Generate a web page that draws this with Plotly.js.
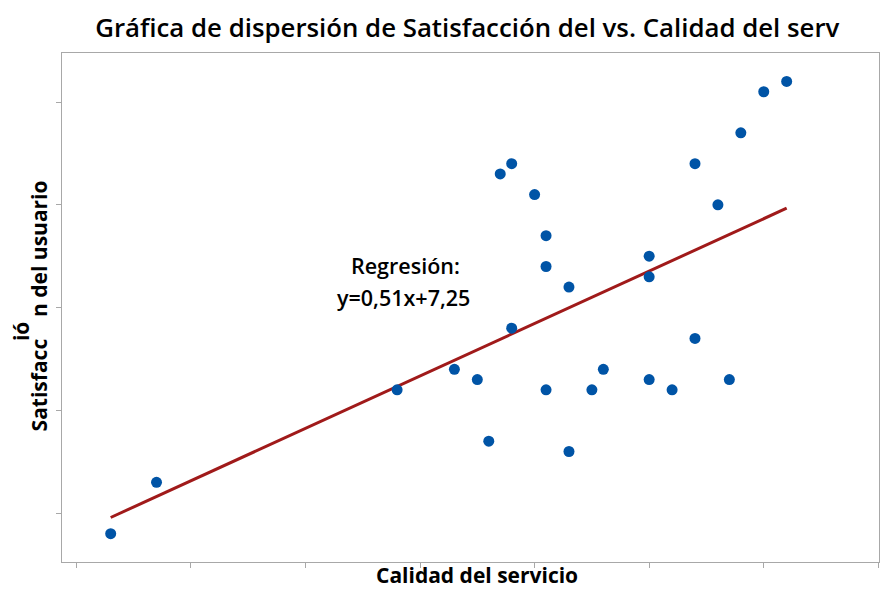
<!DOCTYPE html>
<html>
<head>
<meta charset="utf-8">
<script src="https://cdn.plot.ly/plotly-3.0.1.min.js"></script>
<style>html,body{margin:0;padding:0;background:#fff;}#chart{width:880px;height:590px;}</style>
</head>
<body>
<div id="chart"></div>
<script>
// Data
const calidad = [83, 87, 108, 113, 115, 116, 117, 118, 118, 120, 121, 121, 121, 123, 123, 125, 126, 130, 130, 130, 132, 134, 134, 136, 137, 138, 140, 142];
const satisfaccion = [48, 53, 62, 64, 63, 57, 83, 84, 68, 81, 77, 74, 62, 72, 56, 62, 64, 75, 73, 63, 62, 84, 67, 80, 63, 87, 91, 92];
const slope = 0.51;
const intercept = 7.25;
const xTicks = [80, 90, 100, 110, 120, 130, 140, 150];
const yTicks = [50, 60, 70, 80, 90];

const xMin = Math.min(...calidad), xMax = Math.max(...calidad);
const lineX = [xMin, xMax];
const lineY = lineX.map(v => slope * v + intercept);

const fmt = v => v.toFixed(2).replace('.', ',');
const FONT = '"Open Sans", "Noto Sans", sans-serif';

const traces = [
  {
    x: lineX, y: lineY, mode: 'lines', type: 'scatter',
    line: {color: '#A01A1A', width: 3}, hoverinfo: 'skip', showlegend: false
  },
  {
    x: calidad, y: satisfaccion, mode: 'markers', type: 'scatter',
    marker: {color: '#0054A6', size: 11}, showlegend: false
  }
];

const layout = {
  width: 880, height: 590,
  margin: {l: 62, r: 1, t: 53, b: 28},
  paper_bgcolor: '#ffffff', plot_bgcolor: '#ffffff',
  font: {family: FONT, color: '#000'},
  title: {
    text: 'Gráfica de dispersión de Satisfacción del vs. Calidad del serv',
    font: {family: FONT, size: 25.8, weight: 600, color: '#000'},
    xref: 'container', x: 0.531, xanchor: 'center',
    yref: 'container', y: 0.952, yanchor: 'middle'
  },
  xaxis: {
    range: [78.75, 150.06], tickvals: xTicks, showticklabels: false,
    ticks: 'outside', ticklen: 5, tickcolor: '#a8a8a8', tickwidth: 1,
    showline: true, linecolor: '#a8a8a8', linewidth: 1, mirror: true,
    showgrid: false, zeroline: false, automargin: false
  },
  yaxis: {
    range: [45.25, 94.77], tickvals: yTicks, showticklabels: false,
    ticks: 'outside', ticklen: 5, tickcolor: '#a8a8a8', tickwidth: 1,
    showline: true, linecolor: '#a8a8a8', linewidth: 1, mirror: true,
    showgrid: false, zeroline: false, automargin: false
  },
  annotations: [
    {text: 'Calidad del servicio', x: 0.508, y: -0.0545, xref: 'paper', yref: 'paper', showarrow: false, borderpad: 0,
     font: {family: FONT, size: 21, weight: 'bold', color: '#000'}, xanchor: 'center', yanchor: 'bottom'},
    {text: 'Regresión:', x: 108.75, y: 74.1, xref: 'x', yref: 'y', showarrow: false,
     font: {family: FONT, size: 21.5, weight: 600, color: '#000'}, xanchor: 'center', yanchor: 'middle'},
    {text: 'y=' + fmt(slope) + 'x+' + fmt(intercept), x: 108.6, y: 70.95, xref: 'x', yref: 'y', showarrow: false,
     font: {family: FONT, size: 21.5, weight: 600, color: '#000'}, xanchor: 'center', yanchor: 'middle'},
    {text: 'Satisfacc\u00A0\u00A0\u00A0\u00A0n del usuario', textangle: -90, x: -0.027, y: 0.504, xref: 'paper', yref: 'paper',
     showarrow: false, xanchor: 'center', yanchor: 'middle',
     font: {family: FONT, size: 21, weight: 'bold', color: '#000'}},
    {text: 'ió', textangle: -90, x: -0.05, y: 0.452, xref: 'paper', yref: 'paper',
     showarrow: false, xanchor: 'center', yanchor: 'middle',
     font: {family: FONT, size: 21, weight: 'bold', color: '#000'}}
  ]
};

Plotly.newPlot('chart', traces, layout, {displayModeBar: false, staticPlot: true});
</script>
</body>
</html>
